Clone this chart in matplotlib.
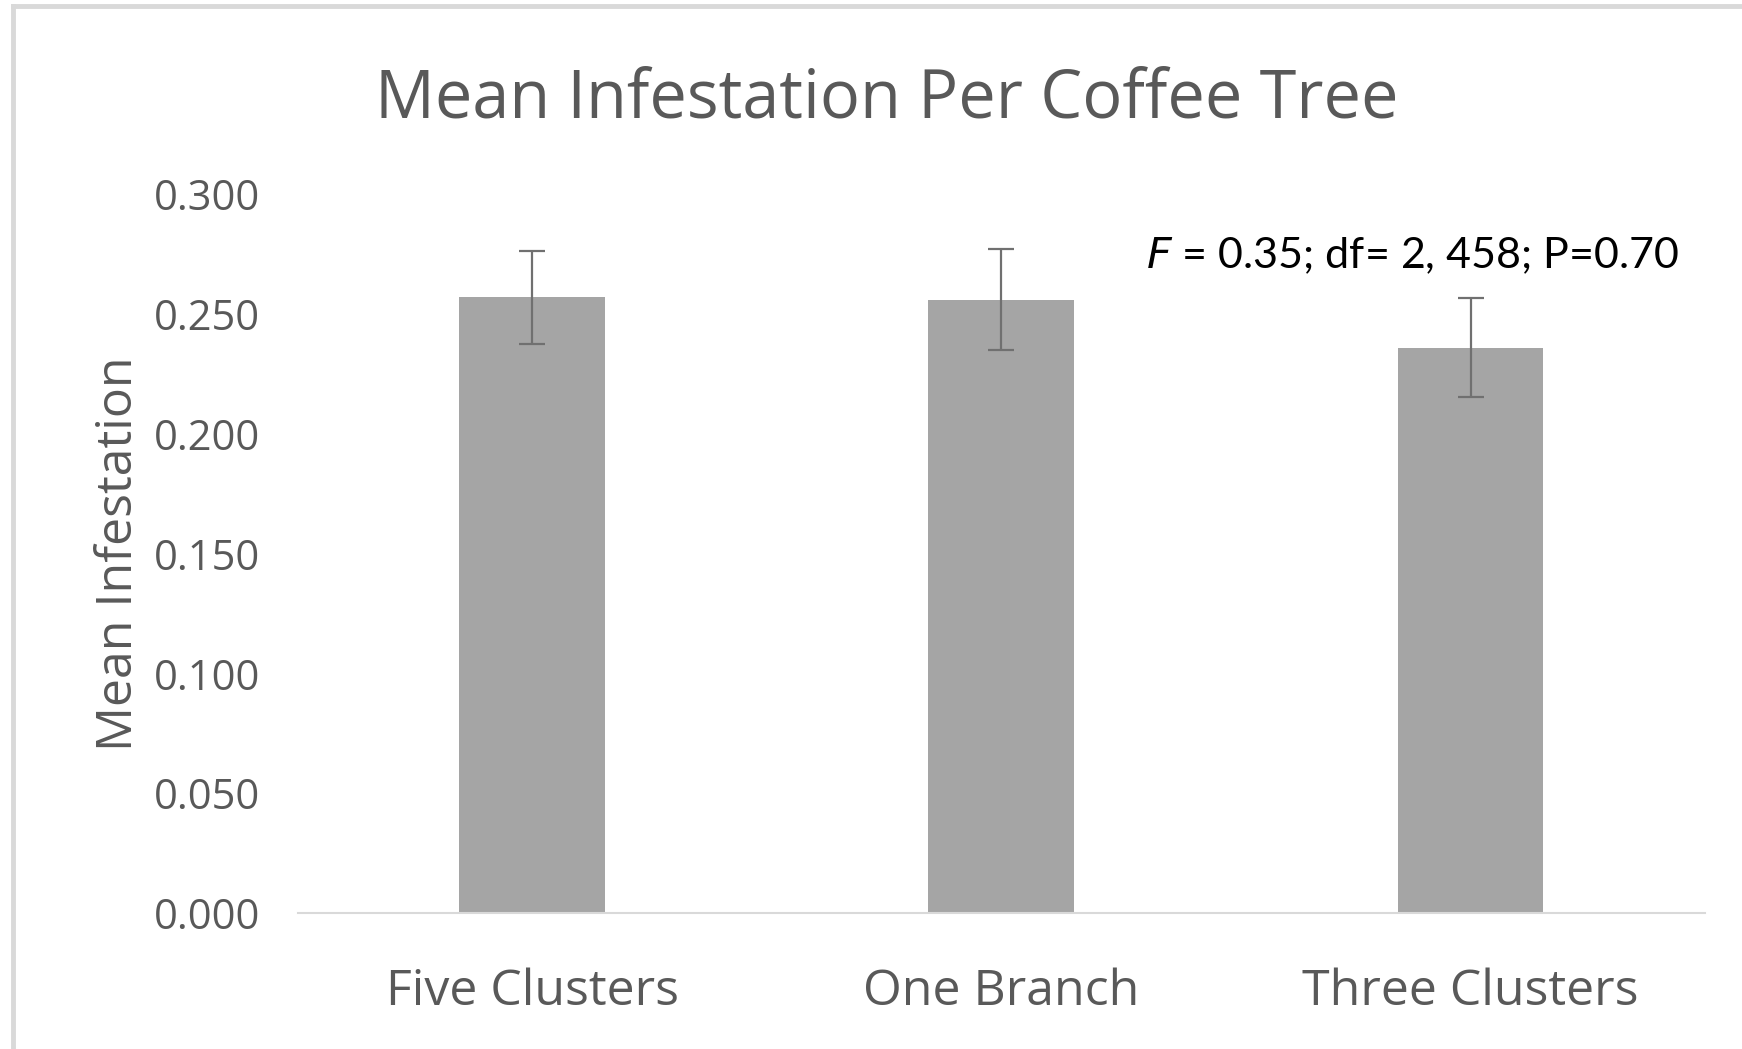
import matplotlib.pyplot as plt
from matplotlib.lines import Line2D

categories = ['Five Clusters', 'One Branch', 'Three Clusters']
means = [0.257, 0.256, 0.236]
errors = [0.0194, 0.021, 0.0207]
yticks = [0.0, 0.05, 0.1, 0.15, 0.2, 0.25, 0.3]

plt.rcParams['font.family'] = ['Open Sans', 'DejaVu Sans']
text_grey = '#595959'

fig = plt.figure(figsize=(17.42, 10.49), dpi=100)
ax = fig.add_axes([0.1709, 0.1295, 0.8079, 0.6852])

x = range(len(categories))
ax.bar(x, means, width=0.311, color='#a5a5a5', zorder=2)
ax.errorbar(x, means, yerr=errors, fmt='none', ecolor='#707070',
            elinewidth=1.6, capsize=9.5, capthick=1.6, zorder=3)

ax.set_xlim(-0.5, 2.5)
ax.set_ylim(0, 0.3)
ax.set_yticks(yticks)
ax.set_yticklabels([f'{v:.3f}' for v in yticks])
ax.set_xticks(list(x))
ax.set_xticklabels(categories)

for s in ['top', 'right', 'left']:
    ax.spines[s].set_visible(False)
ax.spines['bottom'].set_color('#d9d9d9')
ax.spines['bottom'].set_linewidth(1.5)
ax.tick_params(axis='both', length=0, colors=text_grey)
ax.tick_params(axis='y', labelsize=30, pad=27)
ax.tick_params(axis='x', labelsize=36, pad=39)

ax.set_ylabel('Mean Infestation', fontsize=36, color=text_grey, labelpad=7)
fig.text(0.509, 0.905, 'Mean Infestation Per Coffee Tree', fontsize=48,
         color=text_grey, ha='center', va='center')

ax.text(1.309, 0.2746, r'$\it{F}$ = 0.35; df= 2, 458; P=0.70', fontsize=31,
        family=['Lato', 'DejaVu Sans'], color='black', va='center', ha='left')

# light grey chart border (left and top edges)
fig.add_artist(Line2D([0.0077, 0.0077], [0, 0.9943], transform=fig.transFigure,
                      color='#d9d9d9', lw=3.5))
fig.add_artist(Line2D([0.0077, 1.0], [0.9943, 0.9943], transform=fig.transFigure,
                      color='#d9d9d9', lw=3.5))

fig.savefig('out.png', dpi=100)
